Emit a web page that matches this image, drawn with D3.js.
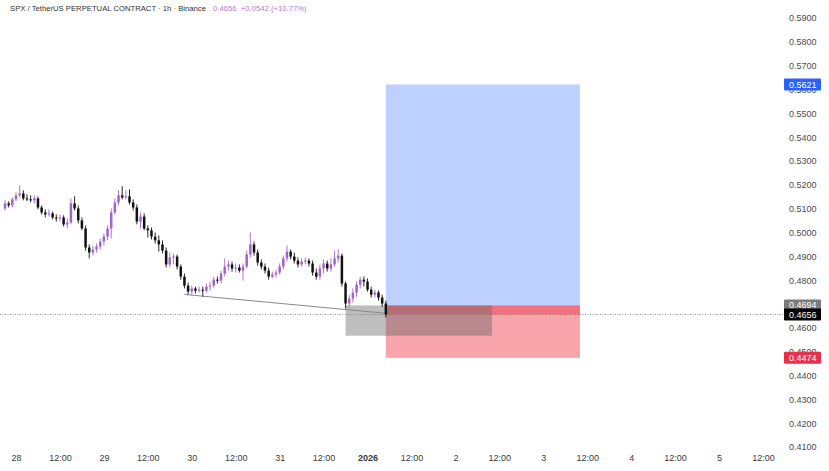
<!DOCTYPE html>
<html><head><meta charset="utf-8">
<script src="https://cdn.jsdelivr.net/npm/d3@7"></script>
<style>body{margin:0;background:#fff;} svg{display:block;font-family:"Liberation Sans",Arial,sans-serif;}</style>
</head><body><svg id="c" width="829" height="471"></svg>
<script>
// ---------- DATA ----------
const startTime = "2025-12-27T21:00:00Z"; // first 1h candle
const opens  = [.5101,.5122,.5114,.5139,.5156,.5164,.5143,.5139,.5135,.5143,.5105,.5084,.5076,.5080,.5063,.5059,.5063,.5034,.5042,.5122,.5101,.5051,.5017,.4937,.4916,.4929,.4941,.4962,.4983,.5017,.5084,.5126,.5156,.5147,.5152,.5126,.5105,.5046,.5067,.5017,.5009,.4983,.4967,.4950,.4924,.4866,.4895,.4899,.4857,.4815,.4777,.4752,.4765,.4756,.4760,.4756,.4773,.4777,.4802,.4798,.4828,.4857,.4866,.4849,.4853,.4840,.4857,.4908,.4950,.4916,.4874,.4857,.4840,.4815,.4824,.4832,.4857,.4891,.4920,.4899,.4882,.4866,.4878,.4882,.4870,.4832,.4815,.4849,.4870,.4849,.4866,.4891,.4903,.4786,.4702,.4723,.4748,.4781,.4802,.4794,.4760,.4739,.4748,.4727,.4702];
const highs  = [.5135,.5131,.5147,.5168,.5198,.5177,.5160,.5156,.5156,.5152,.5114,.5097,.5097,.5088,.5076,.5076,.5072,.5059,.5143,.5152,.5114,.5063,.5030,.4950,.4945,.4954,.4975,.4996,.5030,.5101,.5143,.5177,.5194,.5177,.5181,.5139,.5118,.5084,.5080,.5030,.5021,.5000,.4988,.4967,.4937,.4916,.4912,.4908,.4866,.4828,.4790,.4777,.4773,.4773,.4773,.4786,.4794,.4815,.4815,.4840,.4891,.4882,.4878,.4870,.4866,.4870,.4924,.5000,.4962,.4929,.4887,.4870,.4853,.4836,.4845,.4870,.4903,.4945,.4929,.4916,.4895,.4891,.4895,.4891,.4882,.4849,.4866,.4887,.4882,.4891,.4924,.4929,.4912,.4794,.4739,.4765,.4794,.4815,.4815,.4807,.4773,.4760,.4756,.4739,.4714];
const lows   = [.5093,.5105,.5105,.5131,.5147,.5135,.5131,.5126,.5122,.5097,.5076,.5063,.5067,.5055,.5046,.5046,.5025,.5017,.5034,.5093,.5038,.5009,.4924,.4891,.4903,.4916,.4929,.4945,.4967,.4975,.5076,.5114,.5139,.5139,.5118,.5093,.5034,.5017,.5009,.4979,.4971,.4954,.4920,.4912,.4853,.4853,.4866,.4845,.4802,.4765,.4739,.4739,.4744,.4748,.4731,.4748,.4756,.4769,.4786,.4786,.4815,.4840,.4836,.4832,.4832,.4798,.4849,.4895,.4903,.4861,.4845,.4828,.4802,.4807,.4811,.4824,.4845,.4878,.4887,.4870,.4853,.4857,.4866,.4857,.4819,.4802,.4802,.4828,.4836,.4836,.4857,.4874,.4773,.4681,.4685,.4706,.4731,.4765,.4773,.4752,.4727,.4727,.4714,.4689,.4643];
const closes = [.5122,.5114,.5139,.5156,.5164,.5143,.5139,.5135,.5143,.5105,.5084,.5076,.5080,.5063,.5059,.5063,.5034,.5042,.5122,.5101,.5051,.5017,.4937,.4916,.4929,.4941,.4962,.4983,.5017,.5084,.5126,.5156,.5147,.5152,.5126,.5105,.5046,.5067,.5017,.5009,.4983,.4967,.4950,.4924,.4866,.4895,.4899,.4857,.4815,.4777,.4752,.4765,.4756,.4760,.4756,.4773,.4777,.4802,.4798,.4828,.4857,.4866,.4849,.4853,.4840,.4857,.4908,.4950,.4916,.4874,.4857,.4840,.4815,.4824,.4832,.4857,.4891,.4920,.4899,.4882,.4866,.4878,.4882,.4870,.4832,.4815,.4849,.4870,.4849,.4866,.4891,.4903,.4786,.4702,.4723,.4748,.4781,.4802,.4794,.4760,.4739,.4748,.4727,.4702,.4656];
const priceTicks = [0.59,0.58,0.57,0.56,0.55,0.54,0.53,0.52,0.51,0.50,0.49,0.48,0.47,0.46,0.45,0.44,0.43,0.42,0.41];
const timeTicks = ["2025-12-28T00:00:00Z","2025-12-28T12:00:00Z","2025-12-29T00:00:00Z","2025-12-29T12:00:00Z","2025-12-30T00:00:00Z","2025-12-30T12:00:00Z","2025-12-31T00:00:00Z","2025-12-31T12:00:00Z","2026-01-01T00:00:00Z","2026-01-01T12:00:00Z","2026-01-02T00:00:00Z","2026-01-02T12:00:00Z","2026-01-03T00:00:00Z","2026-01-03T12:00:00Z","2026-01-04T00:00:00Z","2026-01-04T12:00:00Z","2026-01-05T00:00:00Z","2026-01-05T12:00:00Z"];
const timeTickLabels = ["28","12:00","29","12:00","30","12:00","31","12:00","2026","12:00","2","12:00","3","12:00","4","12:00","5","12:00"];
const entryPrice = 0.4694, targetPrice = 0.5621, stopPrice = 0.4474, lastPrice = 0.4656;
const positionStart = "2026-01-01T05:00:00Z", positionEnd = "2026-01-03T10:00:00Z";
const rangeStart = "2025-12-31T18:00:00Z", rangeEnd = "2026-01-02T10:00:00Z", rangeTop = 0.4694, rangeBottom = 0.4567;
const trendTimes = ["2025-12-29T22:00:00Z","2026-01-01T05:00:00Z"], trendPrices = [0.4740, 0.4661];
const titleText = "SPX / TetherUS PERPETUAL CONTRACT · 1h · Binance";
const quoteText = "0.4656  +0.0542 (+10.77%)";

// ---------- CHART ----------
const svg = d3.select("#c");
const x = d3.scaleUtc().domain([new Date("2025-12-28T00:00:00Z"), new Date("2026-01-05T12:00:00Z")]).range([16, 763]);
const y = d3.scaleLinear().domain([0.41, 0.59]).range([447, 18]);
const t0 = new Date(startTime).getTime();
const candles = closes.map((c, i) => ({t: new Date(t0 + i*3600e3), o: opens[i], h: highs[i], l: lows[i], c}));
const bw = 2.5;
const purple = "#a463c8", dark = "#121212";

// price scale
const ax = svg.append("g").attr("transform", "translate(789,0)")
  .call(d3.axisRight(y).tickValues(priceTicks).tickFormat(d3.format(".4f")).tickSize(0).tickPadding(0));
ax.select(".domain").remove();
ax.selectAll("text").attr("font-size", 9).attr("fill", "#4a4a4a").attr("font-family", "Liberation Sans, Arial, sans-serif");

// time scale
const bx = svg.append("g").attr("transform", "translate(0,455)")
  .call(d3.axisBottom(x).tickValues(timeTicks.map(d => new Date(d))).tickFormat((d, i) => timeTickLabels[i]).tickSize(0).tickPadding(0));
bx.select(".domain").remove();
bx.selectAll("text").attr("font-size", 9).attr("fill", "#3a3a3a").attr("font-family", "Liberation Sans, Arial, sans-serif")
  .attr("font-weight", (d, i) => timeTickLabels[i] === "2026" ? "bold" : "normal");

// position boxes
const px0 = x(new Date(positionStart)), px1 = x(new Date(positionEnd));
svg.append("rect").attr("x", px0).attr("width", px1 - px0).attr("y", y(targetPrice)).attr("height", y(entryPrice) - y(targetPrice)).attr("fill", "rgba(41,98,255,0.3)");
svg.append("rect").attr("x", px0).attr("width", px1 - px0).attr("y", y(entryPrice)).attr("height", y(stopPrice) - y(entryPrice)).attr("fill", "rgba(242,54,69,0.45)");
svg.append("rect").attr("x", px0).attr("width", px1 - px0).attr("y", y(entryPrice)).attr("height", y(lastPrice) - y(entryPrice)).attr("fill", "rgba(230,40,60,0.4)");
// range box
const rx0 = x(new Date(rangeStart)), rx1 = x(new Date(rangeEnd));
svg.append("rect").attr("x", rx0).attr("width", rx1 - rx0).attr("y", y(rangeTop)).attr("height", y(rangeBottom) - y(rangeTop)).attr("fill", "rgba(100,100,100,0.42)");

// last price dotted line
svg.append("line").attr("x1", 0).attr("x2", 784).attr("y1", y(lastPrice)).attr("y2", y(lastPrice))
  .attr("stroke", "#777").attr("stroke-width", 0.8).attr("stroke-dasharray", "1,1.5");

// trendline
svg.append("line").attr("x1", x(new Date(trendTimes[0]))).attr("y1", y(trendPrices[0]))
  .attr("x2", x(new Date(trendTimes[1]))).attr("y2", y(trendPrices[1])).attr("stroke", "#8a8a8a").attr("stroke-width", 1);

// candles
const g = svg.append("g");
g.selectAll("line.w").data(candles).join("line").attr("class", "w")
  .attr("x1", d => x(d.t)).attr("x2", d => x(d.t)).attr("y1", d => y(d.h)).attr("y2", d => y(d.l))
  .attr("stroke", d => d.c >= d.o ? purple : dark).attr("stroke-width", 0.9);
g.selectAll("rect.b").data(candles).join("rect").attr("class", "b")
  .attr("x", d => x(d.t) - bw/2).attr("width", bw)
  .attr("y", d => y(Math.max(d.o, d.c))).attr("height", d => Math.max(1, Math.abs(y(d.o) - y(d.c))))
  .attr("fill", d => d.c >= d.o ? purple : dark);

// price badges
function badge(p, fill, color) {
  const bg = svg.append("g");
  bg.append("rect").attr("x", 784).attr("y", y(p) - 6).attr("width", 37).attr("height", 12).attr("rx", 1).attr("fill", fill);
  bg.append("text").attr("x", 789).attr("y", y(p)).attr("dy", "0.34em").attr("font-size", 9).attr("fill", color).text(d3.format(".4f")(p));
}
badge(targetPrice, "#2962ff", "#fff");
badge(entryPrice, "#7b7b7b", "#fff");
badge(lastPrice, "#000", "#fff");
badge(stopPrice, "#e8304a", "#fff");

// header
const title = svg.append("text").attr("x", 10).attr("y", 8).attr("dy", "0.34em").attr("font-size", 7.7)
  .attr("fill", "#333").text(titleText);
const tEnd = 10 + title.node().getComputedTextLength();
svg.append("text").attr("x", Math.max(213, tEnd + 5)).attr("y", 8).attr("dy", "0.34em").attr("font-size", 7.7).attr("fill", "#b47ad2")
  .attr("xml:space", "preserve").text(quoteText);
</script></body></html>
